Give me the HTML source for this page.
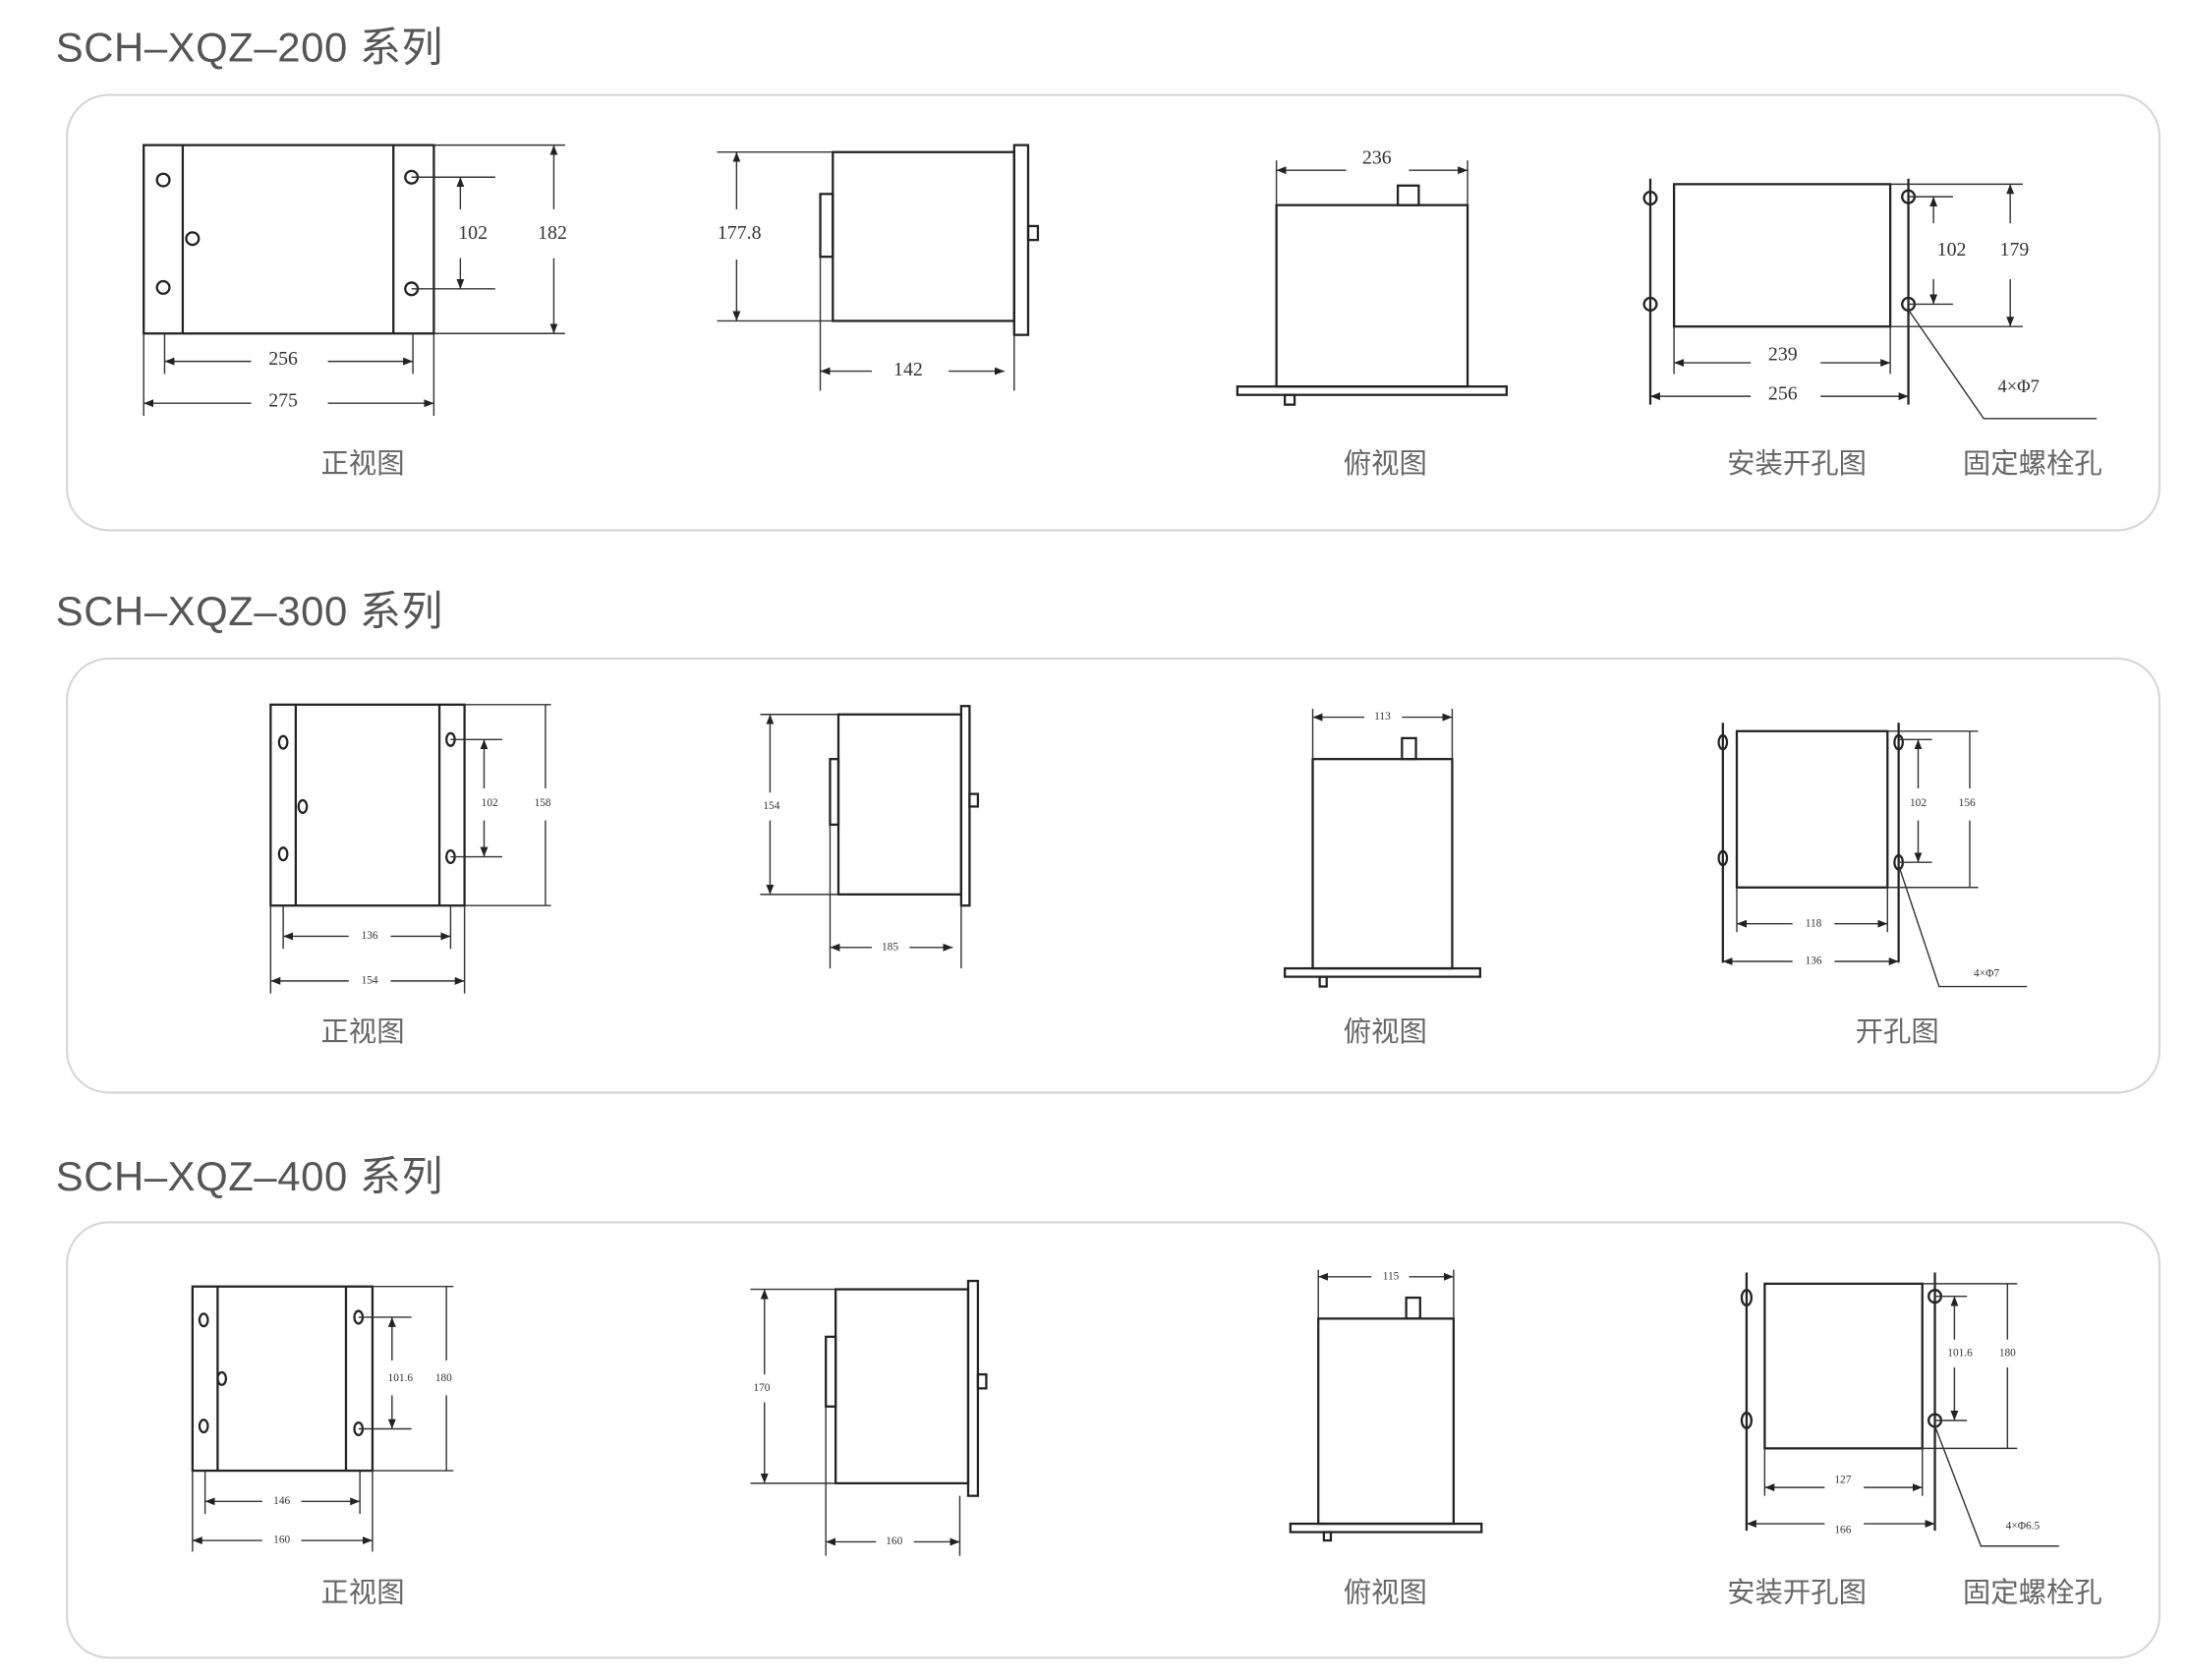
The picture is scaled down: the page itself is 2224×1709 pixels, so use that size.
<!DOCTYPE html>
<html><head><meta charset="utf-8"><style>
html,body{margin:0;padding:0;background:#fff;}
svg{display:block;}
.t{font-family:"Liberation Sans","Noto Sans CJK SC",sans-serif;fill:#555;font-size:29.5px;letter-spacing:0.4px;}
.c{font-family:"Liberation Sans","Noto Sans CJK SC",sans-serif;fill:#666;font-size:20px;text-anchor:middle;}
.d{stroke:#222;stroke-width:1.6;fill:none;}
.e{stroke:#333;stroke-width:1;fill:none;}
.n{font-family:"Liberation Serif","Noto Serif CJK SC",serif;fill:#333;font-size:14px;text-anchor:middle;dominant-baseline:middle;}
.s{font-family:"Liberation Serif","Noto Serif CJK SC",serif;fill:#333;font-size:8px;text-anchor:middle;dominant-baseline:middle;}
.box{fill:#fff;stroke:#d6d6d6;stroke-width:1.5;}
</style></head><body>
<svg width="2224" height="1709" viewBox="0 0 1567 1204" preserveAspectRatio="none" xmlns="http://www.w3.org/2000/svg">
<defs>
<marker id="a" viewBox="0 0 10 10" refX="10" refY="5" markerWidth="7" markerHeight="7" orient="auto-start-reverse"><path d="M0,1 L10,5 L0,9 z" fill="#222"/></marker>
</defs>
<rect width="1567" height="1204" fill="#fff"/>
<text class="t" x="40" y="44">SCH–XQZ–200 系列</text>
<text class="t" x="40" y="448">SCH–XQZ–300 系列</text>
<text class="t" x="40" y="853">SCH–XQZ–400 系列</text>
<rect class="box" x="48" y="68" width="1500" height="312" rx="30"/>
<rect class="box" x="48" y="472" width="1500" height="311" rx="30"/>
<rect class="box" x="48" y="876" width="1500" height="312" rx="30"/>

<!-- ===== Section 1 ===== -->
<g>
<rect class="d" x="103" y="104" width="208" height="135"/>
<line class="d" x1="131" y1="104" x2="131" y2="239"/><line class="d" x1="282" y1="104" x2="282" y2="239"/>
<circle class="d" cx="117" cy="129" r="4.5"/><circle class="d" cx="117" cy="206" r="4.5"/>
<circle class="d" cx="295" cy="127" r="4.5"/><circle class="d" cx="295" cy="207" r="4.5"/>
<circle class="d" cx="138" cy="171" r="4.5"/>
<line class="e" x1="295" y1="127" x2="355" y2="127"/><line class="e" x1="295" y1="207" x2="355" y2="207"/>
<line class="e" x1="311" y1="104" x2="405" y2="104"/><line class="e" x1="311" y1="239" x2="405" y2="239"/>
<line class="e" x1="330" y1="150" x2="330" y2="127" marker-end="url(#a)"/><line class="e" x1="330" y1="185" x2="330" y2="207" marker-end="url(#a)"/>
<text class="n" x="339" y="168">102</text>
<line class="e" x1="397" y1="150" x2="397" y2="104" marker-end="url(#a)"/><line class="e" x1="397" y1="185" x2="397" y2="239" marker-end="url(#a)"/>
<text class="n" x="396" y="168">182</text>
<line class="e" x1="118" y1="239" x2="118" y2="268"/><line class="e" x1="296" y1="239" x2="296" y2="268"/>
<line class="e" x1="103" y1="239" x2="103" y2="298"/><line class="e" x1="311" y1="239" x2="311" y2="298"/>
<line class="e" x1="180" y1="259" x2="118" y2="259" marker-end="url(#a)"/><line class="e" x1="235" y1="259" x2="296" y2="259" marker-end="url(#a)"/>
<text class="n" x="203" y="258">256</text>
<line class="e" x1="180" y1="289" x2="103" y2="289" marker-end="url(#a)"/><line class="e" x1="235" y1="289" x2="311" y2="289" marker-end="url(#a)"/>
<text class="n" x="203" y="288">275</text>

<rect class="d" x="597" y="109" width="130" height="121"/>
<rect class="d" x="727" y="104" width="10" height="136"/>
<rect class="d" x="588" y="139" width="9" height="45"/>
<rect class="d" x="737" y="162" width="7" height="10"/>
<line class="e" x1="514" y1="109" x2="597" y2="109"/><line class="e" x1="514" y1="230" x2="597" y2="230"/>
<line class="e" x1="528" y1="150" x2="528" y2="109" marker-end="url(#a)"/><line class="e" x1="528" y1="186" x2="528" y2="230" marker-end="url(#a)"/>
<text class="n" x="530" y="168">177.8</text>
<line class="e" x1="588" y1="184" x2="588" y2="280"/><line class="e" x1="727" y1="240" x2="727" y2="280"/>
<line class="e" x1="625" y1="266" x2="588" y2="266" marker-end="url(#a)"/><line class="e" x1="680" y1="266" x2="720" y2="266" marker-end="url(#a)"/>
<text class="n" x="651" y="266">142</text>

<rect class="d" x="915" y="147" width="137" height="130"/>
<rect class="d" x="1002" y="133" width="15" height="14"/>
<rect class="d" x="887" y="277" width="193" height="6"/>
<rect class="d" x="921" y="283" width="7" height="7"/>
<line class="e" x1="915" y1="115" x2="915" y2="147"/><line class="e" x1="1052" y1="115" x2="1052" y2="147"/>
<line class="e" x1="965" y1="122" x2="915" y2="122" marker-end="url(#a)"/><line class="e" x1="1010" y1="122" x2="1052" y2="122" marker-end="url(#a)"/>
<text class="n" x="987" y="114">236</text>

<rect class="d" x="1200" y="132" width="155" height="102"/>
<line class="d" x1="1183" y1="128" x2="1183" y2="290"/>
<circle class="d" cx="1183" cy="142" r="4.5" fill="#fff"/><circle class="d" cx="1183" cy="218" r="4.5" fill="#fff"/>
<line class="d" x1="1368" y1="128" x2="1368" y2="290"/>
<circle class="d" cx="1368" cy="141" r="4.5" fill="#fff"/><circle class="d" cx="1368" cy="218" r="4.5" fill="#fff"/>
<line class="e" x1="1368" y1="141" x2="1400" y2="141"/><line class="e" x1="1368" y1="218" x2="1400" y2="218"/>
<line class="e" x1="1355" y1="132" x2="1450" y2="132"/><line class="e" x1="1355" y1="234" x2="1450" y2="234"/>
<line class="e" x1="1386" y1="160" x2="1386" y2="141" marker-end="url(#a)"/><line class="e" x1="1386" y1="200" x2="1386" y2="218" marker-end="url(#a)"/>
<text class="n" x="1399" y="180">102</text>
<line class="e" x1="1441" y1="160" x2="1441" y2="132" marker-end="url(#a)"/><line class="e" x1="1441" y1="200" x2="1441" y2="234" marker-end="url(#a)"/>
<text class="n" x="1444" y="180">179</text>
<line class="e" x1="1200" y1="234" x2="1200" y2="268"/><line class="e" x1="1355" y1="234" x2="1355" y2="268"/>
<line class="e" x1="1255" y1="260" x2="1200" y2="260" marker-end="url(#a)"/><line class="e" x1="1305" y1="260" x2="1355" y2="260" marker-end="url(#a)"/>
<text class="n" x="1278" y="255">239</text>
<line class="e" x1="1255" y1="284" x2="1183" y2="284" marker-end="url(#a)"/><line class="e" x1="1305" y1="284" x2="1368" y2="284" marker-end="url(#a)"/>
<text class="n" x="1278" y="283">256</text>
<polyline class="e" points="1368,222 1422,300 1503,300"/>
<text class="n" x="1447" y="278" style="font-size:13px">4×Φ7</text>
<text class="c" x="260" y="339">正视图</text><text class="c" x="993" y="339">俯视图</text>
<text class="c" x="1288" y="339">安装开孔图</text><text class="c" x="1457" y="339">固定螺栓孔</text>
</g>

<!-- ===== Section 2 ===== -->
<g>
<rect class="d" x="194" y="505" width="139" height="144"/>
<line class="d" x1="212" y1="505" x2="212" y2="649"/><line class="d" x1="315" y1="505" x2="315" y2="649"/>
<ellipse class="d" cx="203" cy="532" rx="3" ry="4.5"/><ellipse class="d" cx="203" cy="612" rx="3" ry="4.5"/>
<ellipse class="d" cx="323" cy="530" rx="3" ry="4.5"/><ellipse class="d" cx="323" cy="614" rx="3" ry="4.5"/>
<ellipse class="d" cx="217" cy="578" rx="3" ry="4.5"/>
<line class="e" x1="323" y1="530" x2="360" y2="530"/><line class="e" x1="323" y1="614" x2="360" y2="614"/>
<line class="e" x1="333" y1="505" x2="395" y2="505"/><line class="e" x1="333" y1="649" x2="395" y2="649"/>
<line class="e" x1="347" y1="565" x2="347" y2="530" marker-end="url(#a)"/><line class="e" x1="347" y1="588" x2="347" y2="614" marker-end="url(#a)"/>
<text class="s" x="351" y="576">102</text>
<line class="e" x1="391" y1="565" x2="391" y2="505"/><line class="e" x1="391" y1="588" x2="391" y2="649"/>
<text class="s" x="389" y="576">158</text>
<line class="e" x1="203" y1="649" x2="203" y2="680"/><line class="e" x1="323" y1="649" x2="323" y2="680"/>
<line class="e" x1="194" y1="649" x2="194" y2="712"/><line class="e" x1="333" y1="649" x2="333" y2="712"/>
<line class="e" x1="250" y1="671" x2="203" y2="671" marker-end="url(#a)"/><line class="e" x1="280" y1="671" x2="323" y2="671" marker-end="url(#a)"/>
<text class="s" x="265" y="671">136</text>
<line class="e" x1="250" y1="703" x2="194" y2="703" marker-end="url(#a)"/><line class="e" x1="280" y1="703" x2="333" y2="703" marker-end="url(#a)"/>
<text class="s" x="265" y="703">154</text>

<rect class="d" x="601" y="512" width="88" height="129"/>
<rect class="d" x="689" y="506" width="6" height="143"/>
<rect class="d" x="595" y="544" width="6" height="47"/>
<rect class="d" x="695" y="569" width="6" height="9"/>
<line class="e" x1="545" y1="512" x2="601" y2="512"/><line class="e" x1="545" y1="641" x2="601" y2="641"/>
<line class="e" x1="552" y1="568" x2="552" y2="512" marker-end="url(#a)"/><line class="e" x1="552" y1="588" x2="552" y2="641" marker-end="url(#a)"/>
<text class="s" x="553" y="578">154</text>
<line class="e" x1="595" y1="591" x2="595" y2="694"/><line class="e" x1="689" y1="649" x2="689" y2="694"/>
<line class="e" x1="625" y1="679" x2="595" y2="679" marker-end="url(#a)"/><line class="e" x1="652" y1="679" x2="683" y2="679" marker-end="url(#a)"/>
<text class="s" x="638" y="679">185</text>

<rect class="d" x="941" y="544" width="100" height="150"/>
<rect class="d" x="1005" y="529" width="10" height="15"/>
<rect class="d" x="921" y="694" width="140" height="6"/>
<rect class="d" x="946" y="700" width="5" height="7"/>
<line class="e" x1="941" y1="508" x2="941" y2="544"/><line class="e" x1="1041" y1="508" x2="1041" y2="544"/>
<line class="e" x1="978" y1="514" x2="941" y2="514" marker-end="url(#a)"/><line class="e" x1="1005" y1="514" x2="1041" y2="514" marker-end="url(#a)"/>
<text class="s" x="991" y="514">113</text>

<rect class="d" x="1245" y="524" width="108" height="112"/>
<line class="d" x1="1235" y1="518" x2="1235" y2="690"/>
<ellipse class="d" cx="1235" cy="532" rx="3" ry="5" fill="#fff"/><ellipse class="d" cx="1235" cy="615" rx="3" ry="5" fill="#fff"/>
<line class="d" x1="1361" y1="518" x2="1361" y2="690"/>
<ellipse class="d" cx="1361" cy="532" rx="3" ry="5" fill="#fff"/><ellipse class="d" cx="1361" cy="618" rx="3" ry="5" fill="#fff"/>
<line class="e" x1="1361" y1="530" x2="1385" y2="530"/><line class="e" x1="1361" y1="618" x2="1385" y2="618"/>
<line class="e" x1="1353" y1="524" x2="1418" y2="524"/><line class="e" x1="1353" y1="636" x2="1418" y2="636"/>
<line class="e" x1="1375" y1="565" x2="1375" y2="530" marker-end="url(#a)"/><line class="e" x1="1375" y1="588" x2="1375" y2="618" marker-end="url(#a)"/>
<text class="s" x="1375" y="576">102</text>
<line class="e" x1="1412" y1="565" x2="1412" y2="524"/><line class="e" x1="1412" y1="588" x2="1412" y2="636"/>
<text class="s" x="1410" y="576">156</text>
<line class="e" x1="1245" y1="636" x2="1245" y2="668"/><line class="e" x1="1353" y1="636" x2="1353" y2="668"/>
<line class="e" x1="1285" y1="662" x2="1245" y2="662" marker-end="url(#a)"/><line class="e" x1="1315" y1="662" x2="1353" y2="662" marker-end="url(#a)"/>
<text class="s" x="1300" y="662">118</text>
<line class="e" x1="1285" y1="689" x2="1235" y2="689" marker-end="url(#a)"/><line class="e" x1="1315" y1="689" x2="1361" y2="689" marker-end="url(#a)"/>
<text class="s" x="1300" y="689">136</text>
<polyline class="e" points="1361,620 1390,707 1453,707"/>
<text class="s" x="1424" y="698">4×Φ7</text>
<text class="c" x="260" y="746">正视图</text><text class="c" x="993" y="746">俯视图</text>
<text class="c" x="1360" y="746">开孔图</text>
</g>

<!-- ===== Section 3 ===== -->
<g>
<rect class="d" x="138" y="922" width="129" height="132"/>
<line class="d" x1="156" y1="922" x2="156" y2="1054"/><line class="d" x1="248" y1="922" x2="248" y2="1054"/>
<ellipse class="d" cx="146" cy="946" rx="3" ry="4.5"/><ellipse class="d" cx="146" cy="1022" rx="3" ry="4.5"/>
<ellipse class="d" cx="257" cy="944" rx="3" ry="4.5"/><ellipse class="d" cx="257" cy="1024" rx="3" ry="4.5"/>
<ellipse class="d" cx="159" cy="988" rx="3" ry="4.5"/>
<line class="e" x1="257" y1="944" x2="295" y2="944"/><line class="e" x1="257" y1="1024" x2="295" y2="1024"/>
<line class="e" x1="267" y1="922" x2="325" y2="922"/><line class="e" x1="267" y1="1054" x2="325" y2="1054"/>
<line class="e" x1="281" y1="975" x2="281" y2="944" marker-end="url(#a)"/><line class="e" x1="281" y1="1000" x2="281" y2="1024" marker-end="url(#a)"/>
<text class="s" x="287" y="988">101.6</text>
<line class="e" x1="320" y1="975" x2="320" y2="922"/><line class="e" x1="320" y1="1000" x2="320" y2="1054"/>
<text class="s" x="318" y="988">180</text>
<line class="e" x1="147" y1="1054" x2="147" y2="1085"/><line class="e" x1="258" y1="1054" x2="258" y2="1085"/>
<line class="e" x1="138" y1="1054" x2="138" y2="1112"/><line class="e" x1="267" y1="1054" x2="267" y2="1112"/>
<line class="e" x1="188" y1="1076" x2="147" y2="1076" marker-end="url(#a)"/><line class="e" x1="216" y1="1076" x2="258" y2="1076" marker-end="url(#a)"/>
<text class="s" x="202" y="1076">146</text>
<line class="e" x1="188" y1="1104" x2="138" y2="1104" marker-end="url(#a)"/><line class="e" x1="216" y1="1104" x2="267" y2="1104" marker-end="url(#a)"/>
<text class="s" x="202" y="1104">160</text>

<rect class="d" x="599" y="924" width="95" height="139"/>
<rect class="d" x="694" y="918" width="7" height="154"/>
<rect class="d" x="592" y="958" width="7" height="50"/>
<rect class="d" x="701" y="985" width="6" height="10"/>
<line class="e" x1="538" y1="924" x2="599" y2="924"/><line class="e" x1="538" y1="1063" x2="599" y2="1063"/>
<line class="e" x1="548" y1="985" x2="548" y2="924" marker-end="url(#a)"/><line class="e" x1="548" y1="1005" x2="548" y2="1063" marker-end="url(#a)"/>
<text class="s" x="546" y="995">170</text>
<line class="e" x1="592" y1="1008" x2="592" y2="1115"/><line class="e" x1="688" y1="1072" x2="688" y2="1115"/>
<line class="e" x1="628" y1="1105" x2="592" y2="1105" marker-end="url(#a)"/><line class="e" x1="655" y1="1105" x2="688" y2="1105" marker-end="url(#a)"/>
<text class="s" x="641" y="1105">160</text>

<rect class="d" x="945" y="945" width="97" height="147"/>
<rect class="d" x="1008" y="930" width="10" height="15"/>
<rect class="d" x="925" y="1092" width="137" height="6"/>
<rect class="d" x="949" y="1098" width="5" height="6"/>
<line class="e" x1="945" y1="910" x2="945" y2="945"/><line class="e" x1="1042" y1="910" x2="1042" y2="945"/>
<line class="e" x1="983" y1="915" x2="945" y2="915" marker-end="url(#a)"/><line class="e" x1="1010" y1="915" x2="1042" y2="915" marker-end="url(#a)"/>
<text class="s" x="997" y="915">115</text>

<rect class="d" x="1265" y="920" width="113" height="118"/>
<line class="d" x1="1252" y1="912" x2="1252" y2="1097"/>
<ellipse class="d" cx="1252" cy="930" rx="3.5" ry="5.5" fill="#fff"/><ellipse class="d" cx="1252" cy="1018" rx="3.5" ry="5.5" fill="#fff"/>
<line class="d" x1="1387" y1="912" x2="1387" y2="1097"/>
<circle class="d" cx="1387" cy="929" r="4.5" fill="#fff"/><circle class="d" cx="1387" cy="1018" r="4.5" fill="#fff"/>
<line class="e" x1="1387" y1="929" x2="1410" y2="929"/><line class="e" x1="1387" y1="1018" x2="1410" y2="1018"/>
<line class="e" x1="1378" y1="920" x2="1446" y2="920"/><line class="e" x1="1378" y1="1038" x2="1446" y2="1038"/>
<line class="e" x1="1401" y1="960" x2="1401" y2="929" marker-end="url(#a)"/><line class="e" x1="1401" y1="980" x2="1401" y2="1018" marker-end="url(#a)"/>
<text class="s" x="1405" y="970">101.6</text>
<line class="e" x1="1439" y1="960" x2="1439" y2="920"/><line class="e" x1="1439" y1="980" x2="1439" y2="1038"/>
<text class="s" x="1439" y="970">180</text>
<line class="e" x1="1265" y1="1038" x2="1265" y2="1072"/><line class="e" x1="1378" y1="1038" x2="1378" y2="1072"/>
<line class="e" x1="1308" y1="1066" x2="1265" y2="1066" marker-end="url(#a)"/><line class="e" x1="1336" y1="1066" x2="1378" y2="1066" marker-end="url(#a)"/>
<text class="s" x="1321" y="1061">127</text>
<line class="e" x1="1308" y1="1092" x2="1252" y2="1092" marker-end="url(#a)"/><line class="e" x1="1336" y1="1092" x2="1387" y2="1092" marker-end="url(#a)"/>
<text class="s" x="1321" y="1097">166</text>
<polyline class="e" points="1387,1022 1420,1108 1476,1108"/>
<text class="s" x="1450" y="1094">4×Φ6.5</text>
<text class="c" x="260" y="1148">正视图</text><text class="c" x="993" y="1148">俯视图</text>
<text class="c" x="1288" y="1148">安装开孔图</text><text class="c" x="1457" y="1148">固定螺栓孔</text>
</g>
</svg>
</body></html>
